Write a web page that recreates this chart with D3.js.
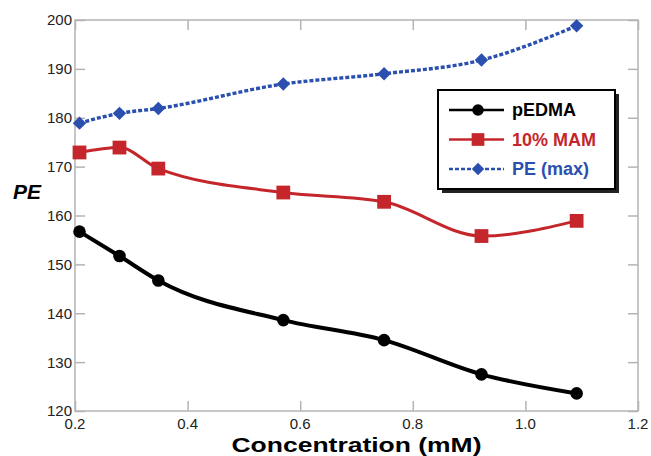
<!DOCTYPE html>
<html><head><meta charset="utf-8">
<script src="https://cdn.jsdelivr.net/npm/d3@7"></script>
<style>body{margin:0;background:#fff}svg{display:block}text{font-family:"Liberation Sans",Arial,sans-serif}</style>
</head><body><svg id="c" width="651" height="456"></svg>
<script>
const concentration = [0.208, 0.279, 0.348, 0.570, 0.749, 0.922, 1.091];
const pEDMA = [156.7, 151.7, 146.7, 138.6, 134.5, 127.5, 123.6];
const mam10 = [172.9, 173.9, 169.6, 164.7, 162.8, 155.8, 158.9];
const peMax = [178.9, 180.9, 181.9, 186.9, 189.0, 191.8, 198.8];
const seriesNames = ["pEDMA", "10% MAM", "PE (max)"];
const xTicks = [0.2, 0.4, 0.6, 0.8, 1.0, 1.2];
const yTicks = [120, 130, 140, 150, 160, 170, 180, 190, 200];

const svg = d3.select("#c");
const L = 75, R = 638, T = 20, B = 411;
const x = d3.scaleLinear().domain([0.2, 1.2]).range([L, R]);
const y = d3.scaleLinear().domain([120, 200]).range([B, T]);
const frame = "#b4b4b4";

const tl = 10;
function styleAxis(g){ g.select(".domain").remove(); g.selectAll(".tick line").attr("stroke", frame).attr("stroke-width",1.5); g.selectAll("text").remove(); }
svg.append("g").attr("transform",`translate(0,${B})`).call(d3.axisTop(x).tickValues(xTicks).tickSize(tl)).call(styleAxis);
svg.append("g").attr("transform",`translate(0,${T})`).call(d3.axisBottom(x).tickValues(xTicks).tickSize(tl)).call(styleAxis);
svg.append("g").attr("transform",`translate(${L},0)`).call(d3.axisRight(y).tickValues(yTicks).tickSize(tl)).call(styleAxis);
svg.append("g").attr("transform",`translate(${R},0)`).call(d3.axisLeft(y).tickValues(yTicks).tickSize(tl)).call(styleAxis);
svg.append("rect").attr("x",L).attr("y",T).attr("width",R-L).attr("height",B-T).attr("fill","none").attr("stroke",frame).attr("stroke-width",1.5);

svg.append("g").selectAll("text").data(yTicks).join("text")
  .attr("x", L-3).attr("y", d=>y(d)).attr("dy","0.36em").attr("text-anchor","end")
  .attr("font-size",15).attr("fill","#222").text(d=>d);
svg.append("g").selectAll("text").data(xTicks).join("text")
  .attr("x", d=>x(d)).attr("y", 429).attr("text-anchor","middle")
  .attr("font-size",15).attr("fill","#222").text(d=>d3.format(".1f")(d));

svg.append("text").attr("x",(L+R)/2).attr("y",451.5).attr("text-anchor","middle")
  .attr("font-size",20).attr("font-weight","bold").attr("fill","#000")
  .attr("textLength",250).attr("lengthAdjust","spacingAndGlyphs").text("Concentration (mM)");
svg.append("text").attr("x",27).attr("y",199).attr("text-anchor","middle")
  .attr("font-size",21).attr("font-weight","bold").attr("font-style","italic").attr("fill","#000").text("PE");

const colors = ["#000000", "#c4262b", "#2a4fae"];
const data = [pEDMA, mam10, peMax];
const line = d3.line().x(d=>x(d[0])).y(d=>y(d[1])).curve(d3.curveMonotoneX);
const widths = [4, 3, 3.4];
const dashes = [null, null, "4,2"];
const sym = [d3.symbolCircle, d3.symbolSquare, d3.symbolSquare];
const symSize = [125, 190, 90];
const rot = [0, 0, 45];

data.forEach((vals,i)=>{
  const pts = concentration.map((c,j)=>[c, vals[j]]);
  svg.append("path").datum(pts).attr("d", line).attr("fill","none")
    .attr("stroke", colors[i]).attr("stroke-width", widths[i]).attr("stroke-dasharray", dashes[i]);
  svg.append("g").selectAll("path").data(pts).join("path")
    .attr("transform", d=>`translate(${x(d[0])},${y(d[1])}) rotate(${rot[i]})`)
    .attr("d", d3.symbol(sym[i], symSize[i])).attr("fill", colors[i]);
});

const lx = 438, ly = 90, lw = 177, lh = 99;
svg.append("rect").attr("x",lx+4).attr("y",ly+4).attr("width",lw).attr("height",lh).attr("fill","#222");
svg.append("rect").attr("x",lx).attr("y",ly).attr("width",lw).attr("height",lh).attr("fill","#fff").attr("stroke","#000").attr("stroke-width",2);
seriesNames.forEach((n,i)=>{
  const yy = ly + 20 + i*29.5;
  svg.append("line").attr("x1",lx+11).attr("x2",lx+66).attr("y1",yy).attr("y2",yy)
    .attr("stroke",colors[i]).attr("stroke-width",2.5).attr("stroke-dasharray", dashes[i]);
  svg.append("path").attr("transform",`translate(${lx+40},${yy}) rotate(${rot[i]})`).attr("d", d3.symbol(sym[i], symSize[i]*0.85)).attr("fill",colors[i]);
  svg.append("text").attr("x",lx+74).attr("y",yy).attr("dy","0.36em").attr("font-size",18).attr("font-weight","bold")
    .attr("fill",colors[i]).text(n);
});
</script></body></html>
